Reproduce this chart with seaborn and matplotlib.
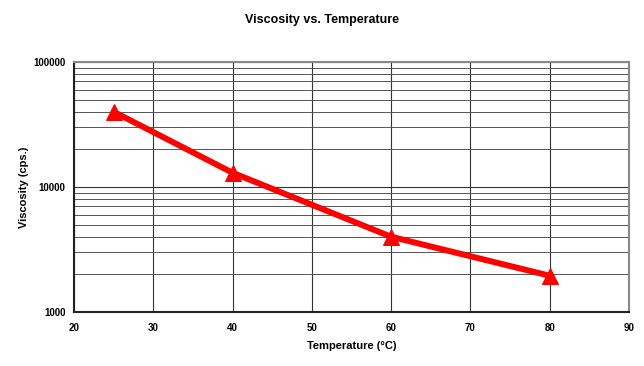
import numpy as np
import pandas as pd
import matplotlib
matplotlib.use("Agg")
import matplotlib.pyplot as plt
import seaborn as sns
from matplotlib.ticker import LogLocator, FixedLocator, NullFormatter

# data
temperature = [25, 40, 60, 80]
viscosity = [40000, 13000, 4000, 1950]

x_ticks = [20, 30, 40, 50, 60, 70, 80, 90]
y_ticks = [1000, 10000, 100000]
y_tick_labels = ["1000", "10000", "100000"]

df = pd.DataFrame({"Temperature": temperature, "Viscosity": viscosity})

sns.set_style("white")
plt.rcParams['font.family'] = ['Liberation Sans', 'DejaVu Sans']
plt.rcParams['text.color'] = 'black'
plt.rcParams['axes.labelcolor'] = 'black'
plt.rcParams['xtick.color'] = 'black'
plt.rcParams['ytick.color'] = 'black'

fig = plt.figure(figsize=(6.44, 3.66), dpi=100)
ax = fig.add_axes([74 / 644, 1 - 312 / 366, (629 - 74) / 644, (312 - 62) / 366])

sns.lineplot(data=df, x="Temperature", y="Viscosity", ax=ax, color="#ff0000",
             linewidth=4.3, marker="^", markersize=11, markeredgecolor="#ff0000",
             zorder=5)

ax.set_yscale("log")
ax.set_xlim(20, 90)
ax.set_ylim(1000, 100000)
ax.xaxis.set_major_locator(FixedLocator(x_ticks))
ax.yaxis.set_major_locator(FixedLocator(y_ticks))
ax.set_yticklabels(y_tick_labels)
ax.yaxis.set_minor_locator(LogLocator(base=10, subs=np.arange(2, 10)))
ax.yaxis.set_minor_formatter(NullFormatter())

# gridlines
ax.grid(True, which="major", axis="both", color="#333333", linewidth=0.8)
ax.grid(True, which="minor", axis="y", color="#555555", linewidth=0.7)

for side in ["left", "bottom"]:
    ax.spines[side].set_color("#222222")
    ax.spines[side].set_linewidth(1.5)
for side in ["top", "right"]:
    ax.spines[side].set_color("#888888")
    ax.spines[side].set_linewidth(1.5)

ax.tick_params(axis="both", which="major", direction="out", length=4, width=1,
               color="#222222", labelsize=7, pad=2)
ax.tick_params(axis="x", which="major", pad=4)
ax.tick_params(axis="y", which="minor", length=0)
for lbl in ax.get_xticklabels() + ax.get_yticklabels():
    lbl.set_fontweight("bold")

ax.set_xlabel("Temperature (°C)", fontsize=8, fontweight="bold", labelpad=6)
ax.set_ylabel("Viscosity (cps.)", fontsize=8, fontweight="bold", labelpad=3)

fig.text(0.5, 1 - 20 / 366, "Viscosity vs. Temperature", ha="center", va="center",
         fontsize=9, fontweight="bold")

fig.savefig("out.png", dpi=100)
